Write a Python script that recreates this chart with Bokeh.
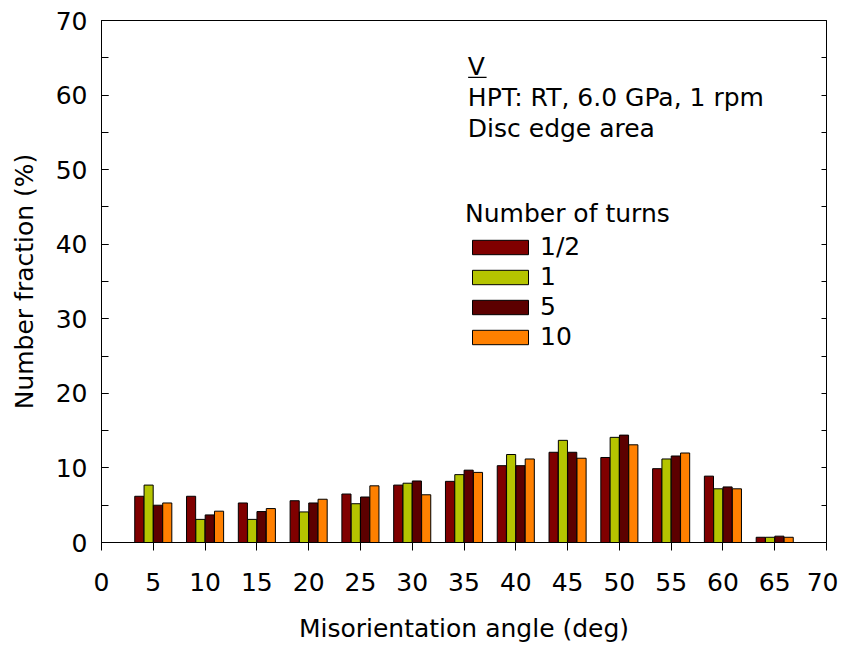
from bokeh.plotting import figure
from bokeh.models import (ColumnDataSource, Range1d, LinearAxis, SingleIntervalTicker,
                          CustomJSTickFormatter, Label, BoxAnnotation, Legend, LegendItem)
from bokeh.embed import file_html
from bokeh.resources import INLINE

# ---- data ----
angles = [5, 10, 15, 20, 25, 30, 35, 40, 45, 50, 55, 60, 65]
series_names = ["1/2", "1", "5", "10"]
turns_half = [6.2, 6.2, 5.3, 5.6, 6.5, 7.7, 8.2, 10.3, 12.1, 11.4, 9.9, 8.9, 0.7]
turns_1 = [7.7, 3.1, 3.1, 4.1, 5.2, 7.95, 9.1, 11.8, 13.7, 14.1, 11.2, 7.2, 0.7]
turns_5 = [5.0, 3.7, 4.15, 5.3, 6.1, 8.25, 9.7, 10.3, 12.1, 14.4, 11.6, 7.45, 0.85]
turns_10 = [5.3, 4.2, 4.55, 5.8, 7.6, 6.4, 9.4, 11.2, 11.3, 13.1, 12.0, 7.2, 0.7]
colors = ["#800000", "#b5c400", "#5c0000", "#ff8000"]

FONT = "DejaVu Sans"
FS = "25px"

p = figure(width=838, height=645, output_backend="svg", toolbar_location=None,
           x_range=Range1d(0, 70), y_range=Range1d(0, 70),
           min_border_left=101, min_border_right=12, min_border_top=20, min_border_bottom=103)
p.xaxis.visible = False
p.yaxis.visible = False
p.grid.visible = False
p.outline_line_color = "black"
p.outline_line_width = 1
p.background_fill_color = "white"
p.border_fill_color = "white"

# axes
xax = LinearAxis(ticker=SingleIntervalTicker(interval=5, num_minor_ticks=0),
                 axis_label="Misorientation angle (deg)")
xax.major_tick_in = 0
xax.major_tick_out = 8
xax.major_label_standoff = 22
xax.axis_label_standoff = 20
yax = LinearAxis(ticker=SingleIntervalTicker(interval=10, num_minor_ticks=2),
                 axis_label="Number fraction (%)")
yax.major_tick_in = 7
yax.major_tick_out = 0
yax.minor_tick_in = 7
yax.minor_tick_out = 0
yax.major_label_standoff = 14
yax.axis_label_standoff = 14
rax = LinearAxis(ticker=SingleIntervalTicker(interval=5, num_minor_ticks=0),
                 formatter=CustomJSTickFormatter(code="return ''"))
rax.major_tick_in = 5
rax.major_tick_out = 0
rax.minor_tick_line_color = None
rax.major_label_standoff = 0
for ax in (xax, yax):
    ax.major_label_text_font = FONT
    ax.major_label_text_font_size = FS
    ax.major_label_text_color = "black"
    ax.axis_label_text_font = FONT
    ax.axis_label_text_font_size = FS
    ax.axis_label_text_font_style = "normal"
    ax.axis_label_text_color = "black"
for ax in (xax, yax, rax):
    ax.axis_line_color = "black"
    ax.major_tick_line_color = "black"
    ax.axis_line_width = 1
p.add_layout(xax, "below")
p.add_layout(yax, "left")
p.add_layout(rax, "right")

# bars
offsets = [-1.35, -0.45, 0.45, 1.35]
all_series = [turns_half, turns_1, turns_5, turns_10]
items = []
for name, vals, off, col in zip(series_names, all_series, offsets, colors):
    src = ColumnDataSource(dict(x=[a + off for a in angles], top=vals))
    r = p.vbar(x="x", top="top", bottom=0, width=0.88, source=src,
               fill_color=col, line_color="black", line_width=1)
    items.append(LegendItem(label=name, renderers=[r]))

legend = Legend(items=items, title="Number of turns", location=(364, 191))
legend.title_text_font = FONT
legend.title_text_font_size = FS
legend.title_text_font_style = "normal"
legend.title_text_color = "black"
legend.label_text_font = FONT
legend.label_text_font_size = FS
legend.label_text_color = "black"
legend.glyph_width = 70
legend.glyph_height = 18
legend.label_standoff = 5
legend.spacing = 1
legend.padding = 0
legend.margin = 0
legend.title_standoff = 4
legend.border_line_color = None
legend.background_fill_alpha = 0
p.add_layout(legend, "center")

# annotation texts
for txt, yb in (("V", 63.85), ("HPT: RT, 6.0 GPa, 1 rpm", 59.69), ("Disc edge area", 55.54)):
    p.add_layout(Label(x=35.37, y=yb, text=txt, text_font=FONT, text_font_size=FS,
                       text_baseline="alphabetic", text_color="black"))
p.add_layout(BoxAnnotation(left=35.4, right=37.18, bottom=62.28, top=62.47,
                           fill_color="black", fill_alpha=1, line_color=None))

open("out.html", "w").write(file_html(p, INLINE))
